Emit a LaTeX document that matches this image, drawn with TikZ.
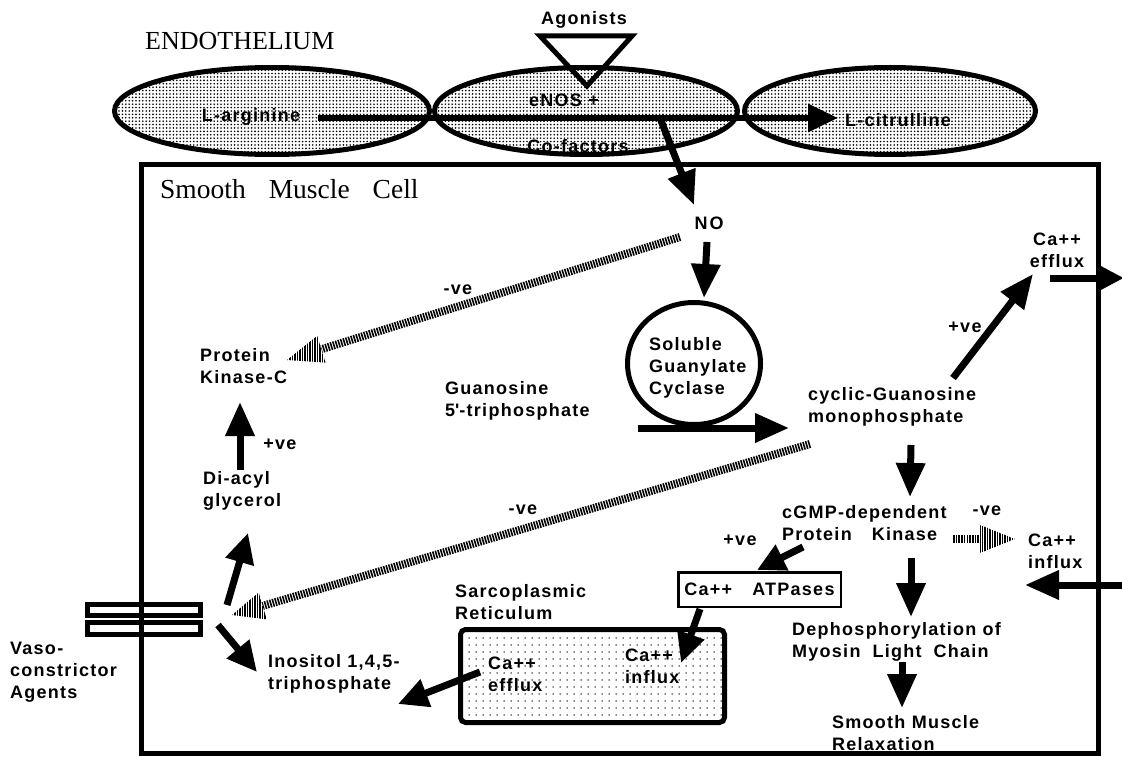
\documentclass[tikz,border=0pt]{standalone}
\usepackage{fontspec}
\setmainfont{Liberation Serif}
\newfontfamily\labfont[LetterSpace=7]{Liberation Sans}
\usetikzlibrary{arrows.meta,patterns.meta,calc,shapes.geometric}
\tikzset{
  lbl/.style={font=\labfont\bfseries\fontsize{18}{22}\selectfont, inner sep=0pt, align=left},
  serif/.style={font=\fontsize{26}{30}\selectfont, inner sep=0pt},
  thickline/.style={line width=5pt},
  bigarrow/.style={line width=7pt, -{Triangle[length=34pt,width=28pt]}},
  hatchline/.style={line width=8pt, dash pattern=on 1.6pt off 1.1pt},
  hatchfill/.style={pattern={Lines[angle=90,distance=2.5pt,line width=1.4pt]}},
  ellfill/.style={pattern={Dots[distance=3.4pt,radius=0.9pt]}},
  srfill/.style={pattern={Dots[distance=7pt,radius=0.75pt]}},
}
\newcommand\hatcharrow[3]{%
  \coordinate (hb#2) at ($(#2)!#3!(#1)$);
  \draw[hatchline] (#1) -- (hb#2);
  \path[hatchfill] (#2) -- ($(hb#2)!14pt!90:(#2)$) -- ($(hb#2)!14pt!-90:(#2)$) -- cycle;
}
\begin{document}
\begin{tikzpicture}[x=1pt,y=-1pt]
\useasboundingbox (0,0) rectangle (1122,757);
% cell
\draw[thickline] (141,165) rectangle (1098,753);
% endothelium
\node[serif, anchor=base west] (endo) at (145,50) {ENDOTHELIUM};
\node[draw, thickline, ellfill, ellipse, minimum width=315pt, minimum height=87pt] (ell1) at (272,111) {};
\node[draw, thickline, ellfill, ellipse, minimum width=303pt, minimum height=87pt] (ell2) at (586,111) {};
\node[draw, thickline, ellfill, ellipse, minimum width=291pt, minimum height=87pt] (ell3) at (890,111) {};
\draw[thickline] (540,36) -- (632,36) -- (587,86) -- cycle;
\node[lbl] (ago) at (584,20) {Agonists};
\node[lbl] (larg) at (251,117) {L-arginine};
\node[lbl] (enos) at (564,100) {eNOS +};
\node[lbl] (cof) at (578,146) {Co-factors};
\node[lbl] (cit) at (898,120) {L-citrulline};
\coordinate (argout) at (318,118);
\coordinate (citin) at (838,118);
\draw[line width=6pt, -{Triangle[length=30pt,width=27pt]}] (argout) -- (citin);
\coordinate (enosout) at (660,118);
\coordinate (noin) at (694,205);
\draw[bigarrow] (enosout) -- (noin);
% smooth muscle
\node[serif, anchor=base west, font=\fontsize{27.5}{30}\selectfont] (smc) at (160,198) {Smooth\hspace{23pt}Muscle\hspace{23pt}Cell};
\node[lbl] (no) at (709,223) {N\hspace{2pt}O};
\node[draw, thickline, ellipse, minimum width=133pt, minimum height=122pt] (sgc) at (694,363.5) {};
\node[lbl, anchor=west] (sgctext) at (649,368) {Soluble\\Guanylate\\Cyclase};
\coordinate (noout) at (707,242);
\coordinate (sgcin) at (704,298);
\draw[bigarrow] (noout) -- (sgcin);
\node[lbl, anchor=west] (gtp) at (445,401) {Guanosine\\5\textquotesingle-triphosphate};
\coordinate (gtpout) at (638,428);
\coordinate (cgmpin) at (789,428);
\draw[bigarrow] (gtpout) -- (cgmpin);
\node[lbl, anchor=west] (cgmp) at (808,407) {cyclic-Guanosine\\monophosphate};
\node[lbl, align=center] (caeff) at (1057,250) {Ca++\\efflux};
\node[lbl] (pos1) at (965,327) {+ve};
\coordinate (cgmpup) at (953,378);
\coordinate (caeffin) at (1033,274);
\draw[bigarrow] (cgmpup) -- (caeffin);
\coordinate (caeffout) at (1050,278);
\coordinate (caeffend) at (1124,278);
\draw[line width=7pt, -{Triangle[length=27pt,width=26pt]}] (caeffout) -- (caeffend);
\node[lbl, anchor=west] (pkg) at (782,523) {cGMP-dependent\\Protein\hspace{20pt}Kinase};
\node[lbl] (neg3) at (987,511) {-ve};
\coordinate (cgmpdown) at (911,445);
\coordinate (pkgin) at (910,497);
\draw[bigarrow] (cgmpdown) -- (pkgin);
\node[lbl, anchor=west] (cainf) at (1028,551) {Ca++\\influx};
\coordinate (cainfout) at (1122,585);
\coordinate (cainfin) at (1025,585);
\draw[bigarrow] (cainfout) -- (cainfin);
\coordinate (pkgright) at (953,539);
\coordinate (cainfleft) at (1015,539);
\hatcharrow{pkgright}{cainfleft}{35pt}
\node[lbl] (pos2) at (740,540) {+ve};
\node[draw, line width=2.5pt, lbl, minimum width=162.5pt, minimum height=34.5pt] (atp) at (759.5,589.5) {Ca++\hspace{20pt}ATPases};
\coordinate (pkgleft) at (803,547);
\coordinate (atpin) at (757,570);
\draw[line width=7pt, -{Triangle[length=28pt,width=27pt]}] (pkgleft) -- (atpin);
\coordinate (pkgdown) at (911,558);
\coordinate (dephin) at (911,617);
\draw[bigarrow] (pkgdown) -- (dephin);
\node[lbl, anchor=west] (deph) at (792,642) {Dephosphorylation of\\Myosin\hspace{12pt}Light\hspace{12pt}Chain};
\coordinate (dephout) at (902,662);
\coordinate (relaxin) at (902,708);
\draw[bigarrow] (dephout) -- (relaxin);
\node[lbl, anchor=west] (relax) at (832,733) {Smooth Muscle\\Relaxation};
% SR
\node[lbl, anchor=west] (srlab) at (455,602) {Sarcoplasmic\\Reticulum};
\draw[thickline, srfill, rounded corners=5pt] (460.5,629.5) rectangle (724.5,722.5);
\node[lbl, anchor=west] (sreff) at (488,674) {Ca++\\efflux};
\node[lbl, anchor=west] (srinf) at (625,666) {Ca++\\influx};
\coordinate (atpout) at (700,609);
\coordinate (srinfin) at (681,663);
\draw[line width=7pt, -{Triangle[length=30pt,width=27pt]}] (atpout) -- (srinfin);
\node[lbl, anchor=west] (ip3) at (268,674) {Inositol 1,4,5-\\triphosphate};
\coordinate (sreffout) at (480,672);
\coordinate (ip3right) at (398,704);
\draw[line width=7pt, -{Triangle[length=30pt,width=28pt]}] (sreffout) -- (ip3right);
% receptor
\draw[thickline] (87.5,604.5) rectangle (200.5,615.5);
\draw[thickline] (87.5,622.5) rectangle (200.5,634.5);
\node[lbl, anchor=west] (vaso) at (10,672) {Vaso-\\constrictor\\Agents};
\coordinate (recdown) at (218,625);
\coordinate (ip3in) at (257,672);
\draw[line width=7pt, -{Triangle[length=30pt,width=28pt]}] (recdown) -- (ip3in);
\coordinate (recup) at (227,605);
\coordinate (dagin) at (248,533);
\draw[line width=7pt, -{Triangle[length=30pt,width=28pt]}] (recup) -- (dagin);
\node[lbl, anchor=west] (dag) at (203,491) {Di-acyl\\glycerol};
\node[lbl] (pos3) at (280,444) {+ve};
\coordinate (dagout) at (240,470);
\coordinate (pkcin) at (240,402);
\draw[bigarrow] (dagout) -- (pkcin);
\node[lbl, anchor=west] (pkc) at (200,366) {Protein\\Kinase-C};
% inhibitory
\node[lbl] (neg1) at (458,290) {-ve};
\node[lbl] (neg2) at (523,510) {-ve};
\coordinate (noleft) at (680,237);
\coordinate (pkcright) at (287,360);
\hatcharrow{noleft}{pkcright}{36pt}
\coordinate (cgmpleft) at (810,444);
\coordinate (recright) at (232,615);
\hatcharrow{cgmpleft}{recright}{32pt}
\end{tikzpicture}
\end{document}
